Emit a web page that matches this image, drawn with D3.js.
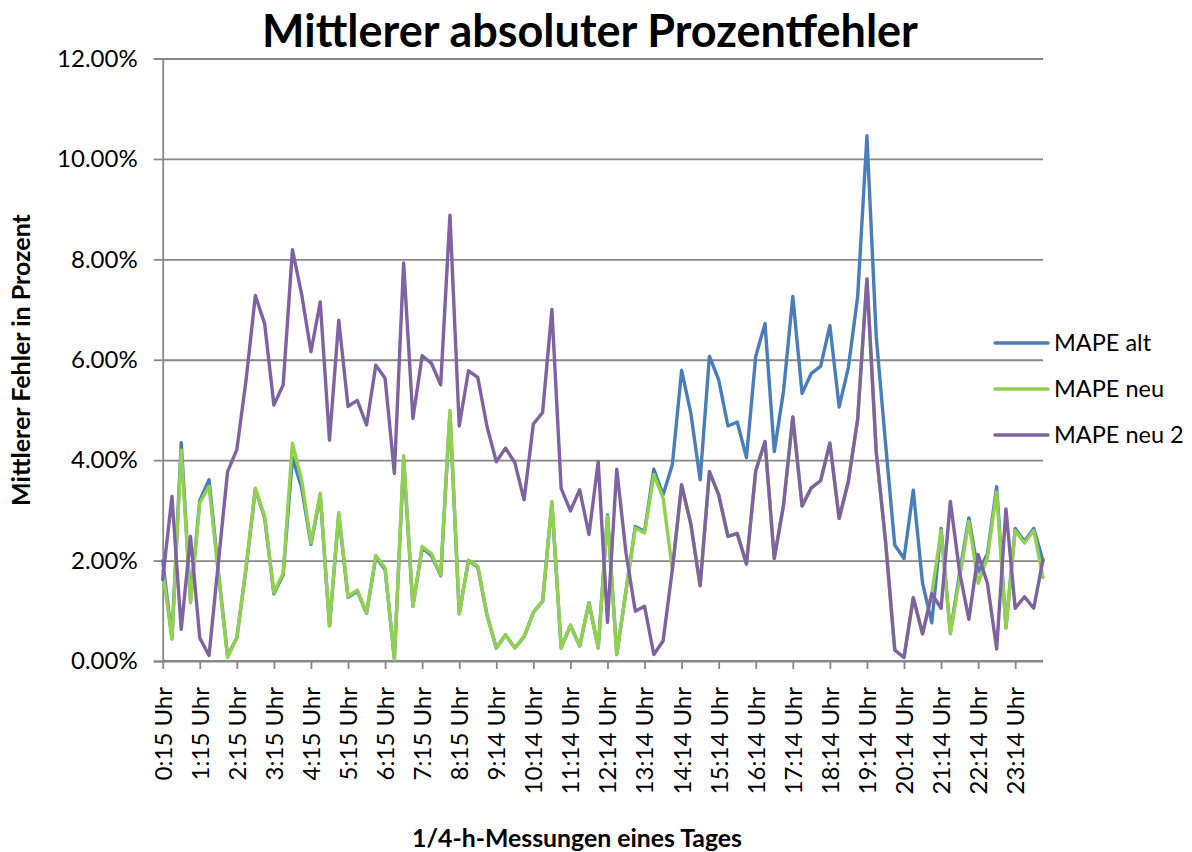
<!DOCTYPE html>
<html>
<head>
<meta charset="utf-8">
<script src="https://cdn.jsdelivr.net/npm/d3@7"></script>
<style>
  body { margin: 0; background: #fff; }
  svg { display: block; }
  text { font-family: Lato, "Open Sans", sans-serif; fill: #000; }
</style>
</head>
<body>
<svg id="chart" width="1192" height="852"></svg>
<script>
// values in percent, one point per quarter hour (0:15 ... 24:00)
const mapeAlt = [
  2.0, 0.45, 4.35, 1.2, 3.2, 3.61, 1.8, 0.1, 0.46, 1.85, 3.42, 2.85, 1.34, 1.72, 4.05, 3.45,
  2.32, 3.3, 0.7, 2.92, 1.27, 1.39, 0.95, 2.07, 1.82, 0.05, 4.0, 1.09, 2.25, 2.1, 1.7, 4.95,
  0.94, 2.0, 1.87, 0.91, 0.26, 0.52, 0.26, 0.48, 0.97, 1.19, 3.15, 0.26, 0.71, 0.3, 1.16, 0.26,
  2.91, 0.13, 1.4, 2.68, 2.58, 3.82, 3.31, 3.91, 5.79, 4.93, 3.61, 6.07, 5.6, 4.68, 4.76, 4.05,
  6.07, 6.72, 4.17, 5.38, 7.26, 5.33, 5.73, 5.87, 6.68, 5.06, 5.85, 7.26, 10.46, 6.47, 4.35, 2.31,
  2.04, 3.4, 1.55, 0.76, 2.64, 0.56, 1.75, 2.85, 1.77, 2.13, 3.47, 0.67, 2.64, 2.38, 2.64, 1.99
];
const mapeNeu = [
  1.8, 0.43, 4.2, 1.16, 3.15, 3.48, 1.75, 0.07, 0.46, 1.89, 3.44, 2.88, 1.36, 1.75, 4.34, 3.6,
  2.35, 3.34, 0.7, 2.96, 1.29, 1.41, 0.96, 2.1, 1.85, 0.03, 4.09, 1.09, 2.28, 2.14, 1.72, 4.99,
  0.94, 2.01, 1.89, 0.91, 0.26, 0.52, 0.26, 0.48, 0.97, 1.19, 3.18, 0.26, 0.71, 0.3, 1.16, 0.26,
  2.88, 0.13, 1.4, 2.65, 2.55, 3.71, 3.25, 1.82, 3.51, 2.72, 1.5, 3.77, 3.31, 2.48, 2.54, 1.93,
  3.79, 4.37, 2.04, 3.11, 4.86, 3.09, 3.45, 3.59, 4.34, 2.84, 3.58, 4.82, 7.61, 4.17, 2.4, 0.22,
  0.07, 1.26, 0.54, 1.34, 2.6, 0.54, 1.66, 2.78, 1.55, 2.06, 3.36, 0.65, 2.6, 2.35, 2.6, 1.66
];
const mapeNeu2 = [
  1.62, 3.28, 0.63, 2.48, 0.46, 0.11, 1.95, 3.77, 4.21, 5.6, 7.28, 6.72, 5.1, 5.5, 8.19, 7.3,
  6.16, 7.15, 4.4, 6.79, 5.07, 5.19, 4.7, 5.89, 5.63, 3.74, 7.93, 4.83, 6.08, 5.93, 5.5, 8.88,
  4.68, 5.78, 5.65, 4.67, 3.97, 4.24, 3.95, 3.21, 4.72, 4.95, 7.0, 3.44, 2.99, 3.41, 2.52, 3.97,
  0.77, 3.82, 2.15, 0.99, 1.09, 0.13, 0.4, 1.82, 3.51, 2.72, 1.5, 3.77, 3.31, 2.48, 2.54, 1.93,
  3.79, 4.37, 2.04, 3.11, 4.86, 3.09, 3.45, 3.59, 4.34, 2.84, 3.58, 4.82, 7.61, 4.17, 2.4, 0.22,
  0.07, 1.26, 0.54, 1.34, 1.05, 3.18, 1.77, 0.83, 2.12, 1.55, 0.24, 3.03, 1.05, 1.28, 1.05, 2.02
];
const tickLabels = [
  "0:15 Uhr", "1:15 Uhr", "2:15 Uhr", "3:15 Uhr", "4:15 Uhr", "5:15 Uhr", "6:15 Uhr", "7:15 Uhr",
  "8:15 Uhr", "9:14 Uhr", "10:14 Uhr", "11:14 Uhr", "12:14 Uhr", "13:14 Uhr", "14:14 Uhr", "15:14 Uhr",
  "16:14 Uhr", "17:14 Uhr", "18:14 Uhr", "19:14 Uhr", "20:14 Uhr", "21:14 Uhr", "22:14 Uhr", "23:14 Uhr"
];
const yTicks = [0, 2, 4, 6, 8, 10, 12];
const seriesNames = ["MAPE alt", "MAPE neu", "MAPE neu 2"];
const seriesColors = ["#4a7ebb", "#92d050", "#7f62a1"];

// category index per quarter hour
const categories = mapeAlt.map((_, i) => i);

const svg = d3.select("#chart");
const plotL = 162.7, plotR = 1043, plotT = 58.5, plotB = 661;

const x = d3.scalePoint().domain(categories).range([plotL, plotR]);
const y = d3.scaleLinear().domain([0, 12]).range([plotB, plotT]);

const gridColor = "#878787";

// horizontal grid
svg.append("g")
  .attr("transform", `translate(${plotL},0)`)
  .call(d3.axisLeft(y).tickValues(yTicks).tickSize(-(plotR - plotL)).tickFormat(""))
  .call(g => g.select(".domain").remove())
  .call(g => g.selectAll("line").attr("stroke", gridColor).attr("stroke-width", 1.8));

// y axis
svg.append("g")
  .attr("transform", `translate(${plotL},0)`)
  .call(d3.axisLeft(y).tickValues(yTicks).tickSize(9).tickPadding(16)
    .tickFormat(d => d.toFixed(2) + "%"))
  .call(g => g.select(".domain").attr("stroke", gridColor).attr("stroke-width", 1.8))
  .call(g => g.selectAll("line").attr("stroke", gridColor).attr("stroke-width", 1.8))
  .call(g => g.selectAll("text").attr("font-size", 24).attr("font-family", "Lato"));

// x axis
const xTickVals = categories.filter(i => i % 4 === 0);
svg.append("g")
  .attr("transform", `translate(0,${plotB})`)
  .call(d3.axisBottom(x).tickValues(xTickVals).tickSize(8)
    .tickFormat((d, k) => tickLabels[k]))
  .call(g => g.select(".domain").attr("stroke", gridColor).attr("stroke-width", 1.8)
    .attr("d", `M${plotL},0H${plotR}`))
  .call(g => g.selectAll("line").attr("stroke", gridColor).attr("stroke-width", 1.8))
  .call(g => g.selectAll("text")
    .attr("font-size", 24).attr("font-family", "Lato")
    .attr("x", 0).attr("y", 0).attr("dy", "0.35em")
    .attr("text-anchor", "end")
    .attr("transform", "translate(0,26) rotate(-90)"));

// lines
const line = d3.line().x((d, i) => x(i)).y(d => y(d));
[mapeAlt, mapeNeu, mapeNeu2].forEach((s, k) => {
  svg.append("path")
    .datum(s)
    .attr("fill", "none")
    .attr("stroke", seriesColors[k])
    .attr("stroke-width", 3.4)
    .attr("stroke-linejoin", "round")
    .attr("stroke-linecap", "round")
    .attr("d", line);
});

// legend
const legend = svg.append("g");
seriesNames.forEach((n, k) => {
  const ly = 343 + k * 46;
  legend.append("line")
    .attr("x1", 995).attr("x2", 1048).attr("y1", ly).attr("y2", ly)
    .attr("stroke", seriesColors[k]).attr("stroke-width", 3.4).attr("stroke-linecap", "round");
  legend.append("text")
    .attr("x", 1054).attr("y", ly).attr("dy", "0.35em")
    .attr("font-size", 23.5)
    .text(n);
});

// fit a text to a measured width
function fit(sel, w) {
  const cur = sel.node().getComputedTextLength();
  const fs = parseFloat(sel.attr("font-size"));
  sel.attr("font-size", fs * w / cur);
}

const title = svg.append("text")
  .attr("x", 590).attr("y", 47).attr("text-anchor", "middle")
  .attr("font-weight", "bold").attr("font-size", 40)
  .text("Mittlerer absoluter Prozentfehler");
fit(title, 656);

const yTitle = svg.append("text")
  .attr("transform", "translate(30,360) rotate(-90)")
  .attr("text-anchor", "middle")
  .attr("font-weight", "bold").attr("font-size", 20)
  .text("Mittlerer Fehler in Prozent");
fit(yTitle, 292);

const xTitle = svg.append("text")
  .attr("x", 577).attr("y", 847).attr("text-anchor", "middle")
  .attr("font-weight", "bold").attr("font-size", 20)
  .text("1/4-h-Messungen eines Tages");
fit(xTitle, 330);
</script>
</body>
</html>
